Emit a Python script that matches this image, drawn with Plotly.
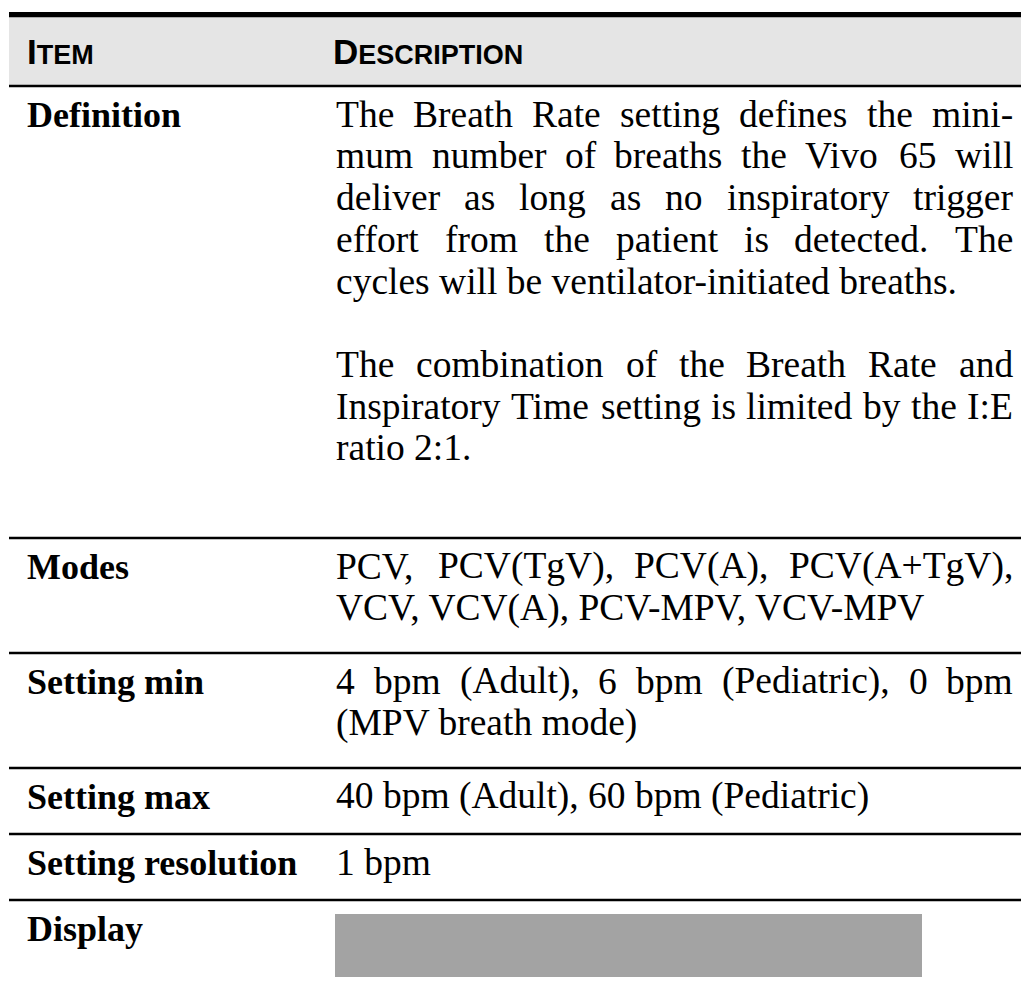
import plotly.graph_objects as go

# ---------------- data ----------------
header_labels = ["Item", "Description"]

items = ["Definition", "Modes", "Setting min", "Setting max",
         "Setting resolution", "Display"]

definition_text = [
    ["The Breath Rate setting defines the mini-",
     "mum number of breaths the Vivo 65 will",
     "deliver as long as no inspiratory trigger",
     "effort from the patient is detected. The",
     "cycles will be ventilator-initiated breaths."],
    ["The combination of the Breath Rate and",
     "Inspiratory Time setting is limited by the I:E",
     "ratio 2:1."],
]
modes_text = [["PCV, PCV(TgV), PCV(A), PCV(A+TgV),",
               "VCV, VCV(A), PCV-MPV, VCV-MPV"]]
setting_min_text = [["4 bpm (Adult), 6 bpm (Pediatric), 0 bpm",
                     "(MPV breath mode)"]]
setting_max_text = [["40 bpm (Adult), 60 bpm (Pediatric)"]]
setting_res_text = [["1 bpm"]]
display_text = []  # shown as a grey placeholder image

descriptions = [definition_text, modes_text, setting_min_text,
                setting_max_text, setting_res_text, display_text]

# ---------------- layout constants ----------------
W, H = 1021, 985
X_LEFT = 9
COL1_X = 27
COL2_X = 336
TEXT_RIGHT = 1013
ROW_EDGES = [86, 538, 653, 768, 834, 900, 985]
FIRST_BASELINE = 41
LINE_PITCH = 41.7
BODY_SIZE = 37.5
LABEL_SIZE = 36
SERIF = "Liberation Serif"
SANS = "Liberation Sans"
INK = "#000000"

# Times / Liberation Serif advance widths (1/1000 em)
_W = dict(a=444, b=500, c=444, d=500, e=444, f=333, g=500, h=500, i=278, j=278,
          k=500, l=278, m=778, n=500, o=500, p=500, q=500, r=333, s=389, t=278,
          u=500, v=500, w=722, x=500, y=500, z=444,
          A=722, B=667, C=667, D=722, E=611, F=556, G=722, H=722, I=333, J=389,
          K=722, L=611, M=889, N=722, O=722, P=556, Q=722, R=667, S=556, T=611,
          U=722, V=722, W=944, X=722, Y=722, Z=611)
_W.update({" ": 250, ",": 250, ".": 250, "-": 333, "(": 333, ")": 333,
           "+": 564, ":": 278})
for d in "0123456789":
    _W[d] = 500


def text_width(s, size):
    return sum(_W.get(c, 500) for c in s) * size / 1000.0


def center_from_baseline(baseline, size):
    return baseline - 0.34 * size


fig = go.Figure()
fig.add_trace(go.Scatter(x=[0], y=[0], mode="markers",
                         marker=dict(opacity=0), hoverinfo="skip"))

shapes = []
# top thick rule and header band
shapes.append(dict(type="rect", xref="x", yref="y", x0=X_LEFT, x1=W, y0=17, y1=ROW_EDGES[0],
                   fillcolor="#e5e5e5", line=dict(width=0), layer="below"))
shapes.append(dict(type="rect", xref="x", yref="y", x0=X_LEFT, x1=W, y0=12, y1=17.3,
                   fillcolor=INK, line=dict(width=0)))
# row rules
for e in ROW_EDGES[:-1]:
    shapes.append(dict(type="rect", xref="x", yref="y", x0=X_LEFT, x1=W,
                       y0=e - 1.35, y1=e + 1.35, fillcolor=INK, line=dict(width=0)))
# display placeholder
shapes.append(dict(type="rect", xref="x", yref="y", x0=335, x1=922, y0=914, y1=977,
                   fillcolor="#a3a3a3", line=dict(width=0)))

annotations = []


def add_text(x, baseline, text, size, family, anchor="left"):
    annotations.append(dict(x=x, y=center_from_baseline(baseline, size), xref="x", yref="y",
                            text=text, showarrow=False, xanchor=anchor, yanchor="middle",
                            borderpad=0, borderwidth=0,
                            font=dict(family=family, size=size, color=INK)))


# header (small caps)
HEAD_BASE = 63
for lbl, hx in zip(header_labels, [COL1_X, 333]):
    up = lbl.upper()
    txt = "<b>" + up[0] + "<span style='font-size:27px'>" + up[1:] + "</span></b>"
    annotations.append(dict(x=hx, y=HEAD_BASE - 12, xref="x", yref="y", text=txt,
                            showarrow=False, xanchor="left", yanchor="middle",
                            borderpad=0, borderwidth=0,
                            font=dict(family=SANS, size=35, color=INK)))

# rows
for r, (item, paras) in enumerate(zip(items, descriptions)):
    top = ROW_EDGES[r]
    base = top + FIRST_BASELINE
    add_text(COL1_X, base, "<b>" + item + "</b>", LABEL_SIZE, SERIF)
    b = base
    for pi, para in enumerate(paras):
        if pi > 0:
            b += LINE_PITCH  # blank line between paragraphs
        for li, line in enumerate(para):
            last = li == len(para) - 1
            words = line.split(" ")
            if last or len(words) < 2:
                add_text(COL2_X, b, line, BODY_SIZE, SERIF)
            else:
                widths = [text_width(w, BODY_SIZE) for w in words]
                gap = (TEXT_RIGHT - COL2_X - sum(widths)) / (len(words) - 1)
                x = COL2_X
                for w, ww in zip(words, widths):
                    add_text(x, b, w, BODY_SIZE, SERIF)
                    x += ww + gap
            b += LINE_PITCH

fig.update_layout(
    width=W, height=H, margin=dict(l=0, r=0, t=0, b=0),
    paper_bgcolor="white", plot_bgcolor="white", showlegend=False,
    xaxis=dict(range=[0, W], visible=False, fixedrange=True),
    yaxis=dict(range=[H, 0], visible=False, fixedrange=True),
    shapes=shapes, annotations=annotations,
)

fig.write_html("out.html", config={"displayModeBar": False},
               post_script="document.body.style.margin='0';")
